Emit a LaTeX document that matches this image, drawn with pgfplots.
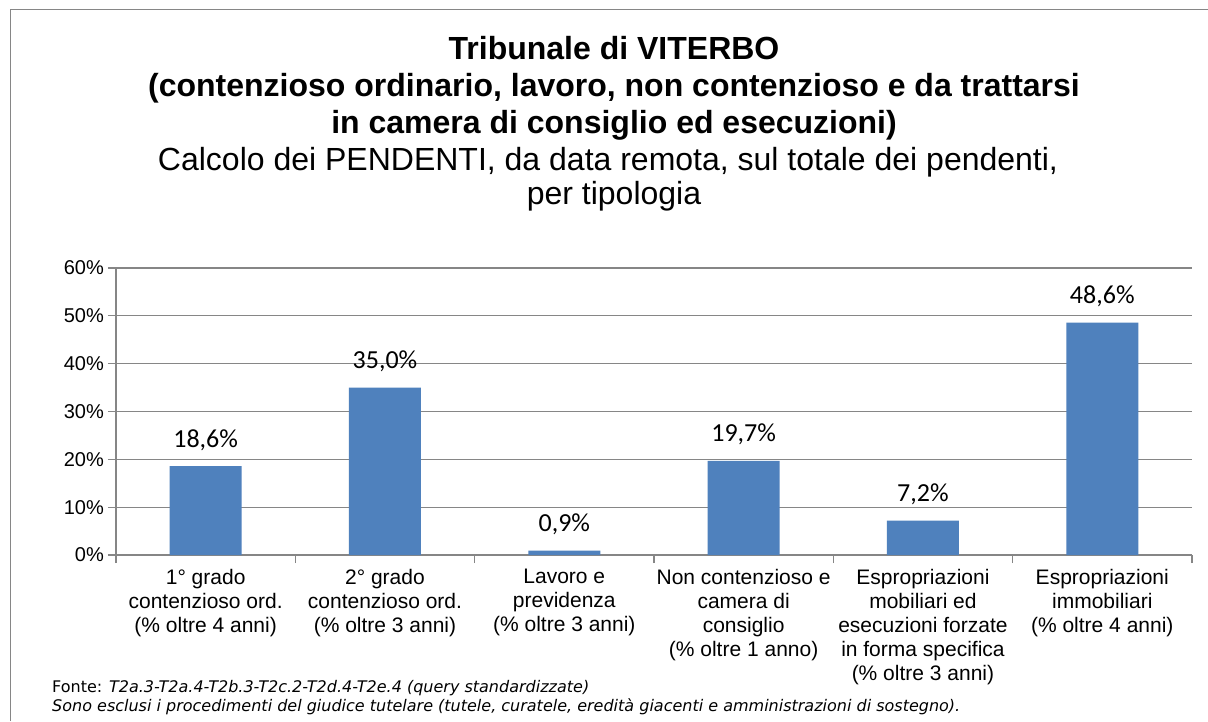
\documentclass[border=0pt]{standalone}
\usepackage{fontspec}
\setmainfont{Liberation Sans}
\newfontfamily\calibri{Carlito}
\newfontfamily\verdana{DejaVu Sans}
\usepackage{pgfplots}
\pgfplotsset{compat=1.18}
\definecolor{barblue}{HTML}{4F81BD}
\definecolor{gridgray}{HTML}{868686}

\begin{document}
\begin{tikzpicture}[x=1pt,y=1pt]
\useasboundingbox (0,0) rectangle (1208,721);
\fill[white] (0,0) rectangle (1208,721);
% frame of the chart (only left and top visible)
\draw[gridgray, line width=1.8pt] (10.5,0) -- (10.5,711.5) -- (1208,711.5);

% titles
\node[anchor=base, font=\bfseries\fontsize{32}{36}\selectfont] at (614,721-60) {Tribunale di VITERBO};
\node[anchor=base, font=\bfseries\fontsize{32}{36}\selectfont] at (614,721-97) {(contenzioso ordinario, lavoro, non contenzioso e da trattarsi};
\node[anchor=base, font=\bfseries\fontsize{32}{36}\selectfont] at (614,721-134) {in camera di consiglio ed esecuzioni)};
\node[anchor=base, font=\fontsize{32}{36}\selectfont] at (608,721-171) {Calcolo dei PENDENTI, da data remota, sul totale dei pendenti,};
\node[anchor=base, font=\fontsize{32}{36}\selectfont] at (614,721-205) {per tipologia};

\begin{axis}[
  at={(116pt,166pt)}, anchor=south west,
  scale only axis, width=1076pt, height=287pt,
  xmin=0, xmax=6, ymin=0, ymax=60,
  /pgf/number format/assume math mode=true,
  axis x line*=bottom, axis y line*=left,
  axis line style={gridgray, line width=1.3pt, -},
  every tick/.style={gridgray, line width=1.3pt},
  tick align=outside, major tick length=8pt,
  ymajorgrids, major grid style={gridgray, line width=1.3pt},
  ytick={0,10,...,60},
  yticklabel={\pgfmathprintnumber{\tick}\%},
  yticklabel style={font=\fontsize{20}{24}\selectfont, inner sep=0pt, xshift=-4pt},
  xtick={0,...,6}, xticklabels={},
  extra x ticks={0.5,1.5,...,5.5},
  extra x tick style={major tick length=0pt, grid=none},
  extra x tick labels={
    {1° grado\\contenzioso ord.\\(\% oltre 4 anni)},
    {2° grado\\contenzioso ord.\\(\% oltre 3 anni)},
    {Lavoro e\\previdenza\\(\% oltre 3 anni)},
    {Non contenzioso e\\camera di\\consiglio\\(\% oltre 1 anno)},
    {Espropriazioni\\mobiliari ed\\esecuzioni forzate\\in forma specifica\\(\% oltre 3 anni)},
    {Espropriazioni\\immobiliari\\(\% oltre 4 anni)}},
  extra x tick style={xticklabel style={align=center, anchor=north, inner sep=0pt, yshift=-14pt,
    font=\fontsize{21}{24}\selectfont}},
  clip=false,
]
\addplot[ybar, bar width=72pt, fill=barblue, draw=none,
  nodes near coords={\pgfmathprintnumber[fixed,fixed zerofill,precision=1,use comma,assume math mode=true]{\pgfplotspointmeta}\%},
  every node near coord/.append style={font=\calibri\fontsize{26}{30}\selectfont, text=black, anchor=base, inner sep=0pt, yshift=19pt}]
  coordinates {(0.5,18.6) (1.5,35.0) (2.5,0.9) (3.5,19.7) (4.5,7.2) (5.5,48.6)};
\end{axis}

% footer
\node[anchor=base west, inner sep=0pt, font=\verdana\fontsize{16}{19}\selectfont] at (52,721-692) {Fonte: \textit{T2a.3-T2a.4-T2b.3-T2c.2-T2d.4-T2e.4 (query standardizzate)}};
\node[anchor=base west, inner sep=0pt, font=\verdana\itshape\fontsize{16}{19}\selectfont] at (52,721-711) {Sono esclusi i procedimenti del giudice tutelare (tutele, curatele, eredità giacenti e amministrazioni di sostegno).};
\end{tikzpicture}
\end{document}
